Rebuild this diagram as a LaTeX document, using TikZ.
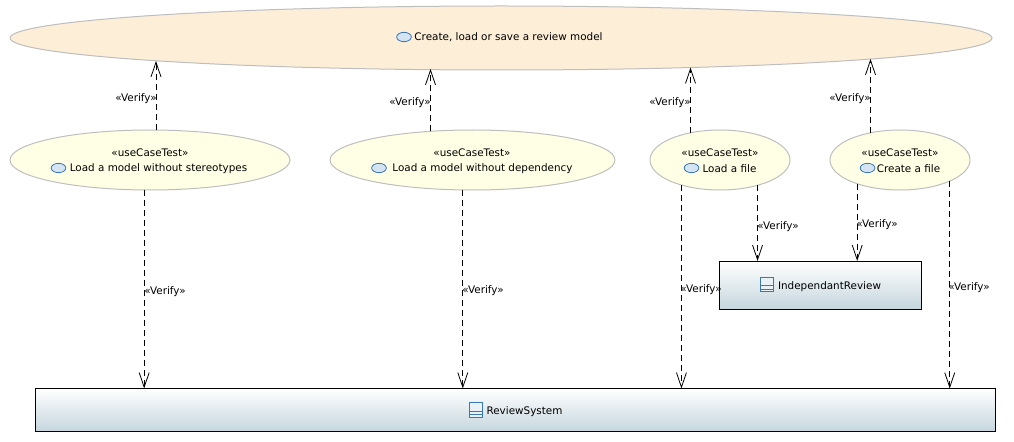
\documentclass[tikz,border=0pt]{standalone}
\usepackage{fontspec}
\setmainfont{DejaVu Sans}
\usetikzlibrary{arrows.meta}
\usetikzlibrary{shapes.geometric}
\definecolor{useCaseFill}{RGB}{253,238,216}
\definecolor{testFill}{RGB}{255,255,230}
\definecolor{ovalLine}{RGB}{190,190,190}
\definecolor{iconFill}{RGB}{213,228,242}
\definecolor{iconLine}{RGB}{58,120,180}
\definecolor{boxLow}{RGB}{197,214,222}
\tikzset{
  useCase/.style={ellipse,draw=ovalLine,fill=useCaseFill,inner sep=0pt,outer sep=0pt,line width=0.75pt},
  testCase/.style={ellipse,draw=ovalLine,fill=testFill,inner sep=0pt,outer sep=0pt,line width=0.75pt},
  classBox/.style={rectangle,draw=black,top color=white,bottom color=boxLow,inner sep=0pt,outer sep=0pt,line width=0.75pt},
  ovalIcon/.style={ellipse,draw=iconLine,fill=iconFill,inner sep=0pt,outer sep=0pt,minimum width=11pt,minimum height=7pt,line width=0.6pt},
  classIcon/.style={rectangle,draw=iconLine,fill=iconFill!50,inner sep=0pt,outer sep=0pt,minimum width=9.75pt,minimum height=11pt,line width=0.6pt,
    path picture={
      \draw [iconLine,line width=0.6pt] ([yshift=-0.8pt]path picture bounding box.west) -- ([yshift=-0.8pt]path picture bounding box.east);
      \draw [iconLine,line width=0.6pt] ([yshift=-3.4pt]path picture bounding box.west) -- ([yshift=-3.4pt]path picture bounding box.east);
    }},
  labelText/.style={font=\fontsize{7.8}{9}\selectfont,text=black,inner sep=0pt},
  verify/.style={draw=black,line width=0.75pt,dash pattern={on 4.5pt off 3pt},-{Straight Barb[length=11pt,width=7.5pt,line width=0.6pt]}},
}

\begin{document}
\begin{tikzpicture}[x=0.75pt,y=0.75pt,yscale=-1,xscale=1]
\useasboundingbox (0,0) rectangle (1014,442);

%Use case ovals
\draw (501,38) node [useCase,minimum width=736.5pt,minimum height=48pt] (ucReview) {};
\draw (150,160) node [testCase,minimum width=210pt,minimum height=45pt] (ucStereo) {};
\draw (472.5,160) node [testCase,minimum width=213.75pt,minimum height=45pt] (ucDepend) {};
\draw (720,160) node [testCase,minimum width=105pt,minimum height=45pt] (ucLoad) {};
\draw (900,160) node [testCase,minimum width=105pt,minimum height=45pt] (ucCreate) {};

%Class boxes
\draw (515,410) node [classBox,minimum width=720pt,minimum height=32.25pt] (sysBox) {};
\draw (820,285) node [classBox,minimum width=151.5pt,minimum height=36pt] (indepBox) {};

%Arrow ends on the big oval
\coordinate (tipStereo) at (156,61);
\coordinate (tipDepend) at (430.5,69);
\coordinate (tipLoad) at (690.5,67.5);
\coordinate (tipCreate) at (870.5,59);

%Verify up
\draw [verify] (ucStereo.north -| tipStereo) -- (tipStereo);
\draw [verify] (ucDepend.146 -| tipDepend) -- (tipDepend);
\draw [verify] (ucLoad.138 -| tipLoad) -- (tipLoad);
\draw [verify] (ucCreate.138 -| tipCreate) -- (tipCreate);

%Verify down
\draw [verify] (ucStereo.259.6) -- (ucStereo.259.6 |- sysBox.north);
\draw [verify] (ucDepend.252.4) -- (ucDepend.252.4 |- sysBox.north);
\draw [verify] (ucLoad.213.5) -- (ucLoad.213.5 |- sysBox.north);
\draw [verify] (ucCreate.337.4) -- (ucCreate.337.4 |- sysBox.north);
\draw [verify] (ucLoad.326.5) -- (ucLoad.326.5 |- indepBox.north);
\draw [verify] (ucCreate.209.3) -- (ucCreate.209.3 |- indepBox.north);

% Text Node
\draw (508.5,37.5) node [labelText] (txtReview) {Create, load or save a review model};
\draw (404,37) node [ovalIcon] (icoReview) {};
\draw (150,152.5) node [labelText] (tagStereo) {«useCaseTest»};
\draw (158.5,168.5) node [labelText] (txtStereo) {Load a model without stereotypes};
\draw (58.5,168) node [ovalIcon] (icoStereo) {};
\draw (472,152.5) node [labelText] (tagDepend) {«useCaseTest»};
\draw (482.5,168.5) node [labelText] (txtDepend) {Load a model without dependency};
\draw (379,168) node [ovalIcon] (icoDepend) {};
\draw (720,152.5) node [labelText] (tagLoad) {«useCaseTest»};
\draw (729.5,168.5) node [labelText] (txtLoad) {Load a file};
\draw (691.5,168) node [ovalIcon] (icoLoad) {};
\draw (900,152.5) node [labelText] (tagCreate) {«useCaseTest»};
\draw (908.5,168.5) node [labelText] (txtCreate) {Create a file};
\draw (867.5,168) node [ovalIcon] (icoCreate) {};
\draw (524.5,412) node [labelText] (txtSystem) {ReviewSystem};
\draw (476,410) node [classIcon] (icoSystem) {};
\draw (829.5,287) node [labelText] (txtIndep) {IndependantReview};
\draw (767,284.5) node [classIcon] (icoIndep) {};

% Text Node
\draw (136,98.5) node [labelText] (lblA) {«Verify»};
\draw (410,102.5) node [labelText] (lblB) {«Verify»};
\draw (670,102.5) node [labelText] (lblC) {«Verify»};
\draw (850,98.5) node [labelText] (lblD) {«Verify»};
\draw (165,291.5) node [labelText] (lblE) {«Verify»};
\draw (483,290.5) node [labelText] (lblF) {«Verify»};
\draw (701,289.5) node [labelText] (lblG) {«Verify»};
\draw (778,226.5) node [labelText] (lblH) {«Verify»};
\draw (877,224.5) node [labelText] (lblI) {«Verify»};
\draw (969,287.5) node [labelText] (lblJ) {«Verify»};

\end{tikzpicture}
\end{document}
